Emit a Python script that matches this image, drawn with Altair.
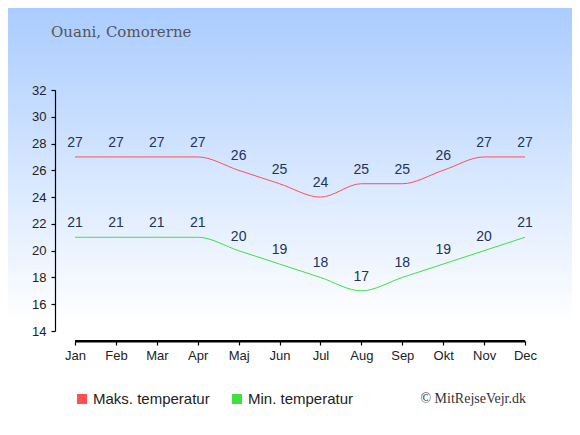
import altair as alt
import pandas as pd

months = ["Jan", "Feb", "Mar", "Apr", "Maj", "Jun", "Jul", "Aug", "Sep", "Okt", "Nov", "Dec"]
max_temp = [27, 27, 27, 27, 26, 25, 24, 25, 25, 26, 27, 27]
min_temp = [21, 21, 21, 21, 20, 19, 18, 17, 18, 19, 20, 21]
series_names = ["Maks. temperatur", "Min. temperatur"]
series_colors = ["#ff5050", "#40e040"]
title_text = "Ouani, Comorerne"
credit_text = "© MitRejseVejr.dk"

rows = []
for i, m in enumerate(months):
    rows.append({"idx": i, "month": m, "temp": max_temp[i], "series": series_names[0]})
    rows.append({"idx": i, "month": m, "temp": min_temp[i], "series": series_names[1]})
df = pd.DataFrame(rows)

W, H = 450, 241
PL, PT, PR, PB = 67, 82, 47, 96

one = pd.DataFrame({"a": [0]})

bg = alt.Chart(one).mark_rect(
    fill={"gradient": "linear", "x1": 0, "y1": 0, "x2": 0, "y2": 1,
          "stops": [{"offset": 0, "color": "#aaccff"},
                    {"offset": 0.75, "color": "#ffffff"},
                    {"offset": 1, "color": "#ffffff"}]},
    clip=False,
).encode(
    x=alt.value(-PL), x2=alt.value(W + PR), y=alt.value(-PT), y2=alt.value(H + PB)
)

x_axis = alt.Axis(values=list(range(12)), labelExpr="%s[datum.value]" % str(months),
                  offset=10, grid=False, title=None, domain=True, domainWidth=1.8,
                  domainColor="#000", tickColor="#000", tickWidth=1.2,
                  tickSize=4, labelFont="Liberation Sans", labelFontSize=13,
                  labelColor="#222", labelPadding=4, labelFlush=False,
                  labelOverlap=False, zindex=1)
y_axis = alt.Axis(values=list(range(14, 33, 2)), offset=20, grid=False, title=None,
                  domain=True, domainWidth=1.2, tickWidth=1.2,
                  domainColor="#000", tickColor="#000", tickSize=4,
                  labelFont="Liberation Sans", labelFontSize=13, labelColor="#222",
                  labelPadding=5, labelOverlap=False, zindex=1)
x_scale = alt.Scale(domain=[0, 11], nice=False, zero=False)
y_scale = alt.Scale(domain=[14, 32], nice=False, zero=False)

x_enc = alt.X("idx:Q", scale=x_scale, axis=x_axis)
y_enc = alt.Y("temp:Q", scale=y_scale, axis=y_axis)
color_enc = alt.Color("series:N", scale=alt.Scale(domain=series_names, range=series_colors),
                      legend=None)

xline = alt.Chart(one).mark_rule(color="#000000", strokeWidth=1.8, clip=False).encode(
    x=alt.datum(0, scale=x_scale), x2=alt.datum(11), y=alt.value(H + 10)
)

lines = alt.Chart(df).mark_line(interpolate="monotone", strokeWidth=1).encode(
    x=x_enc, y=y_enc, color=color_enc, detail="series:N"
)

labels = alt.Chart(df).mark_text(font="Liberation Sans", fontSize=14, color="#22335a",
                                 baseline="middle", dy=-14).encode(
    x=x_enc, y=y_enc, text="temp:Q"
)

title = alt.Chart(pd.DataFrame({"t": [title_text]})).mark_text(
    font="DejaVu Serif", fontSize=15, color="#555555", align="left", baseline="alphabetic"
).encode(x=alt.value(-24), y=alt.value(-53), text="t:N")

credit = alt.Chart(pd.DataFrame({"t": [credit_text]})).mark_text(
    font="Liberation Serif", fontSize=14, color="#333333", align="right", baseline="middle"
).encode(x=alt.value(451), y=alt.value(309), text="t:N")

legend_layers = []
legend_x = [7, 162]
for k in range(2):
    ld = pd.DataFrame({"t": [series_names[k]]})
    legend_layers.append(alt.Chart(ld).mark_square(size=100, opacity=1, filled=True,
                                                   color=series_colors[k]).encode(
        x=alt.value(legend_x[k]), y=alt.value(309)))
    legend_layers.append(alt.Chart(ld).mark_text(
        font="Liberation Sans", fontSize=15, color="#222222", align="left", baseline="middle"
    ).encode(x=alt.value(legend_x[k] + 11), y=alt.value(309), text="t:N"))

chart = alt.layer(bg, lines, labels, xline, title, credit, *legend_layers).properties(
    width=W, height=H, autosize="none",
    padding={"left": PL, "top": PT, "right": PR, "bottom": PB},
    background="#ffffff",
).configure_view(stroke=None)

chart.save("out.html", embed_options={"renderer": "svg", "actions": False})
